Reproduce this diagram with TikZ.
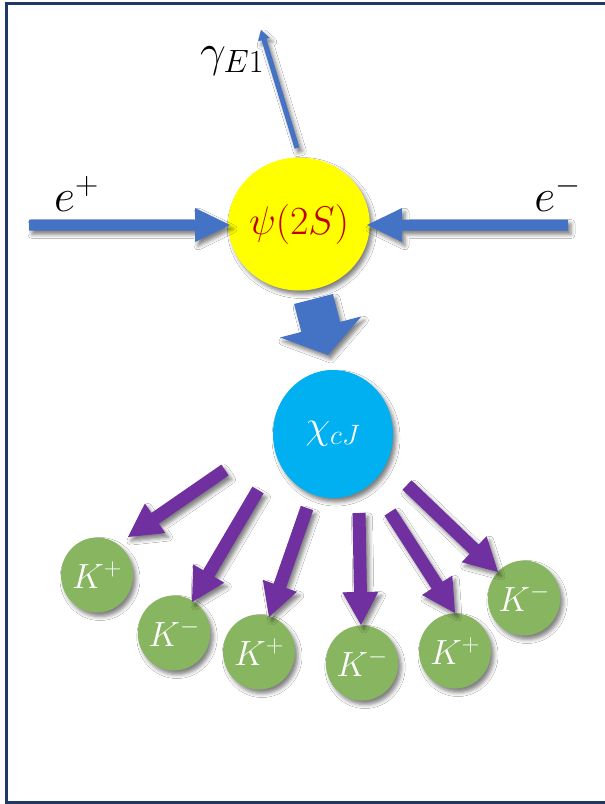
\RequirePackage{fix-cm}
\documentclass[tikz,border=0pt]{standalone}
\usetikzlibrary{shapes.geometric,calc,shadows.blur}

\definecolor{beamblue}{HTML}{4472C4}
\definecolor{psiyellow}{HTML}{FFFF00}
\definecolor{psired}{HTML}{C00000}
\definecolor{chicyan}{HTML}{00B0F0}
\definecolor{kgreen}{HTML}{88B560}
\definecolor{decaypurple}{HTML}{7030A0}
\definecolor{framenavy}{HTML}{1F3864}

\tikzset{
  softshadow/.style={blur shadow={shadow xshift=3pt, shadow yshift=-4pt,
      shadow blur radius=4pt, shadow opacity=50}},
  ball/.style={ellipse, inner sep=0pt, softshadow},
  kaon/.style={ball, fill=kgreen, text=white, minimum width=72pt,
      minimum height=75pt, font=\fontsize{35}{35}\selectfont},
  lbl/.style={inner sep=0pt, font=\fontsize{46}{46}\selectfont},
  beam/.style={fill=beamblue, softshadow},
  decay/.style={fill=decaypurple, softshadow},
  frameline/.style={draw=framenavy, line width=3pt},
}

% Filled block arrow: #1 style, #2 tail, #3 tip,
% #4 half shaft width, #5 half head width, #6 head length
\newcommand\fatarrow[6]{%
  \coordinate (hb) at ($(#3)!#6!(#2)$);
  \fill[#1] ($(#2)!#4!90:(#3)$) -- ($(hb)!#4!90:(#3)$)
    -- ($(hb)!#5!90:(#3)$) -- (#3) -- ($(hb)!#5!-90:(#3)$)
    -- ($(hb)!#4!-90:(#3)$) -- ($(#2)!#4!-90:(#3)$) -- cycle;}

\begin{document}
\begin{tikzpicture}[x=1pt, y=-1pt]
\useasboundingbox (0,0) rectangle (605,804);
\fill[white] (0,0) rectangle (605,804);

% frame (open on the right)
\draw[frameline] (606,3) -- (6,3) -- (6,802) -- (606,802);

% resonances
\node[ball, fill=psiyellow, minimum width=128pt, minimum height=133pt,
      text=psired, font=\fontsize{40}{40}\selectfont] (psi) at (299,224) {$\psi(2S)$};
\node[ball, fill=chicyan, minimum width=120pt, minimum height=128pt,
      text=white, font=\fontsize{40}{40}\selectfont] (chi) at (333,434) {$\chi_{cJ}$};

% final-state kaons
\node[kaon] (k1) at (97,575) {$K^+$};
\node[kaon] (k2) at (174,633) {$K^-$};
\node[kaon] (k3) at (259,652) {$K^+$};
\node[kaon] (k4) at (362,663) {$K^-$};
\node[kaon] (k5) at (455,651) {$K^+$};
\node[kaon] (k6) at (524,598) {$K^-$};

% labels
\node[lbl, anchor=base west] (lep) at (54,211) {$e^+$};
\node[lbl, anchor=base east] (lem) at (581,211) {$e^-$};
\node[lbl, anchor=base west] (lgam) at (200,66) {$\gamma_{E1}$};

% arrow end points
\coordinate (eps) at (29,225);   \coordinate (ept) at (230,225);
\coordinate (ems) at (568,225);  \coordinate (emt) at (367,225);
\coordinate (gs) at (297,148);   \coordinate (gt) at (261,30);
\coordinate (ps) at (313.5,299); \coordinate (pt) at (328,355);
\coordinate (d1s) at (225,470);  \coordinate (d1t) at (128,537);
\coordinate (d2s) at (258,490);  \coordinate (d2t) at (192,602);
\coordinate (d3s) at (307,508);  \coordinate (d3t) at (269,617);
\coordinate (d4s) at (359,513);  \coordinate (d4t) at (361,625);
\coordinate (d5s) at (390,512);  \coordinate (d5t) at (455,613);
\coordinate (d6s) at (407,485);  \coordinate (d6t) at (498,572);

% beams, photon and radiative transition
\fatarrow{beam}{eps}{ept}{5.5pt}{17pt}{35pt}
\fatarrow{beam}{ems}{emt}{5.5pt}{17pt}{35pt}
\fatarrow{beam}{gs}{gt}{2.5pt}{6pt}{10pt}
\fatarrow{beam}{ps}{pt}{20pt}{42pt}{29pt}

% chi_cJ decays
\fatarrow{decay}{d1s}{d1t}{6.5pt}{18pt}{33pt}
\fatarrow{decay}{d2s}{d2t}{6.5pt}{18pt}{33pt}
\fatarrow{decay}{d3s}{d3t}{6.5pt}{18pt}{33pt}
\fatarrow{decay}{d4s}{d4t}{6.5pt}{18pt}{33pt}
\fatarrow{decay}{d5s}{d5t}{6.5pt}{18pt}{33pt}
\fatarrow{decay}{d6s}{d6t}{6.5pt}{18pt}{33pt}
\end{tikzpicture}
\end{document}
